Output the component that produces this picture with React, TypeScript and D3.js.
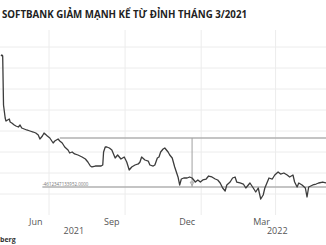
import React from "react";
import * as d3 from "d3";

const W = 326;
const H = 245;

const title = "SOFTBANK GIẢM MẠNH KỂ TỪ ĐỈNH THÁNG 3/2021";
const source = "berg";

const dates = [
  "2021-05-04","2021-05-05","2021-05-06","2021-05-07","2021-05-09","2021-05-10","2021-05-12","2021-05-14","2021-05-15","2021-05-17",
  "2021-05-20","2021-05-22","2021-05-25","2021-05-27","2021-05-29","2021-06-01","2021-06-04","2021-06-08","2021-06-12","2021-06-15",
  "2021-06-18","2021-06-20","2021-06-23","2021-06-25","2021-06-29","2021-07-02","2021-07-06","2021-07-08","2021-07-12","2021-07-14",
  "2021-07-17","2021-07-20","2021-07-24","2021-07-26","2021-07-29","2021-08-01","2021-08-05","2021-08-10","2021-08-14","2021-08-17",
  "2021-08-20","2021-08-22","2021-08-26","2021-08-29","2021-09-02","2021-09-04","2021-09-05","2021-09-07","2021-09-09","2021-09-12",
  "2021-09-15","2021-09-18","2021-09-19","2021-09-22","2021-09-26","2021-09-30","2021-10-03","2021-10-06","2021-10-09","2021-10-13",
  "2021-10-17","2021-10-19","2021-10-21","2021-10-25","2021-10-29","2021-10-31","2021-11-04","2021-11-06","2021-11-09","2021-11-11",
  "2021-11-13","2021-11-16","2021-11-18","2021-11-22","2021-11-24","2021-11-27","2021-11-30","2021-12-04","2021-12-06","2021-12-08",
  "2021-12-11","2021-12-15","2021-12-18","2021-12-21","2021-12-25","2021-12-28","2021-12-31","2022-01-03","2022-01-07","2022-01-10",
  "2022-01-14","2022-01-18","2022-01-21","2022-01-24","2022-01-27","2022-01-30","2022-02-01","2022-02-05","2022-02-08","2022-02-11",
  "2022-02-13","2022-02-17","2022-02-21","2022-02-24","2022-02-27","2022-03-01","2022-03-05","2022-03-08","2022-03-11","2022-03-14",
  "2022-03-17","2022-03-19","2022-03-22","2022-03-24","2022-03-28","2022-03-31","2022-04-04","2022-04-07","2022-04-11","2022-04-15",
  "2022-04-18","2022-04-22","2022-04-24","2022-04-27","2022-04-29","2022-05-03","2022-05-07","2022-05-09","2022-05-11","2022-05-16",
  "2022-05-20","2022-05-23","2022-05-28","2022-06-01"
];

const prices = [
  10571,10619,10571,8238,7619,7476,7524,7571,7429,7381,
  7286,7238,7190,7286,7143,7095,7048,7000,6952,6905,
  6810,6619,6762,6905,6762,6667,6429,6524,6619,6524,
  6429,6238,6095,5952,6000,5905,5857,5762,5667,5524,
  5333,5286,5333,5333,5333,5381,6000,6238,6238,6190,
  6095,5810,5714,5857,5667,5762,5524,5143,5286,5381,
  5429,5524,5762,5619,5571,5381,5333,5381,5714,5762,
  6000,6143,6190,6000,5857,5714,5286,4810,4429,4714,
  4762,4762,4810,4762,4571,4667,4571,4667,4714,4857,
  4810,4714,4667,4524,4286,4143,4429,4571,4762,4810,
  4571,4524,4476,4286,4429,4524,4286,4095,4286,3762,
  3952,4286,4571,4762,4714,4905,5048,4952,5000,4905,
  4810,4905,4571,4333,4524,4429,4286,3857,4333,4429,
  4476,4524,4571,4524
];

const gridValues = [11000, 10000, 9000, 8000, 7000, 6000, 5000, 4000];
const gridDates = ["2021-07-01", "2021-10-01", "2022-01-01", "2022-04-01"];
const monthLabels = ["Jun", "Sep", "Dec", "Mar"];
const monthLabelDates = ["2021-06-15", "2021-09-15", "2021-12-15", "2022-03-15"];
const yearLabels = ["2021", "2022"];
const yearLabelDates = ["2021-07-31", "2022-04-03"];

const refLevels = [6667, 4333];
const refStartDates = ["2021-07-14", "2021-06-23"];
const refLabel = "-4612347133952.0000";
const markerDate = "2021-12-21";

const parse = d3.timeParse("%Y-%m-%d");

export default function App() {
  const x = d3
    .scaleTime()
    .domain([parse("2021-07-01")!, parse("2022-06-01")!])
    .range([49, 49 + 335 * 0.827]);
  const y = d3.scaleLinear().domain([3000, 11000]).range([215, 47]);

  const data = dates.map((d, i) => ({ date: parse(d)!, v: prices[i] }));
  const line = d3
    .line<{ date: Date; v: number }>()
    .x((d) => x(d.date))
    .y((d) => y(d.v));

  const mx = x(parse(markerDate)!);
  const font = "'Open Sans', 'DejaVu Sans', sans-serif";

  return (
    <svg
      width={W}
      height={H}
      style={{ position: "absolute", left: 0, top: 0, background: "#fff" }}
    >
      <rect x={0} y={0} width={W} height={H} fill="#fff" />
      <text
        x={2}
        y={18}
        fontFamily={font}
        fontWeight={700}
        fontSize={10}
        fill="#222"
        textLength={245}
        lengthAdjust="spacingAndGlyphs"
      >
        {title}
      </text>

      {gridValues.map((g) => (
        <line key={g} x1={0} x2={W} y1={y(g)} y2={y(g)} stroke="#ececec" strokeWidth={1} />
      ))}
      {gridDates.map((g) => (
        <line
          key={g}
          x1={x(parse(g)!)}
          x2={x(parse(g)!)}
          y1={30}
          y2={215}
          stroke="#ececec"
          strokeWidth={1}
        />
      ))}

      {refLevels.map((r, i) => (
        <line
          key={r}
          x1={x(parse(refStartDates[i])!)}
          x2={W}
          y1={y(r)}
          y2={y(r)}
          stroke="#b0b0b0"
          strokeWidth={1.5}
        />
      ))}
      <line x1={mx} x2={mx} y1={y(refLevels[0])} y2={y(refLevels[1])} stroke="#a0a0a0" strokeWidth={1} />
      <path
        d={`M${mx - 2},${y(refLevels[1]) - 5} L${mx + 2},${y(refLevels[1]) - 5} L${mx},${y(refLevels[1]) - 1.5} Z`}
        fill="none"
        stroke="#999"
        strokeWidth={0.7}
      />
      <text
        x={x(parse(refStartDates[1])!)}
        y={y(refLevels[1]) - 1.5}
        fontFamily={font}
        fontSize={4.5}
        fill="#777"
        textLength={46}
        lengthAdjust="spacingAndGlyphs"
      >
        {refLabel}
      </text>

      <path d={line(data) || ""} fill="none" stroke="#3c3c3c" strokeWidth={1.3} strokeLinejoin="round" />

      {monthLabels.map((m, i) => (
        <text
          key={m}
          x={x(parse(monthLabelDates[i])!)}
          y={225}
          textAnchor="middle"
          fontFamily={font}
          fontSize={9}
          fill="#555"
        >
          {m}
        </text>
      ))}
      {yearLabels.map((m, i) => (
        <text
          key={m}
          x={x(parse(yearLabelDates[i])!)}
          y={234}
          textAnchor="middle"
          fontFamily={font}
          fontSize={9}
          fill="#555"
        >
          {m}
        </text>
      ))}
      <text x={0} y={242} fontFamily={font} fontWeight={700} fontSize={7} fill="#333">
        {source}
      </text>
    </svg>
  );
}
